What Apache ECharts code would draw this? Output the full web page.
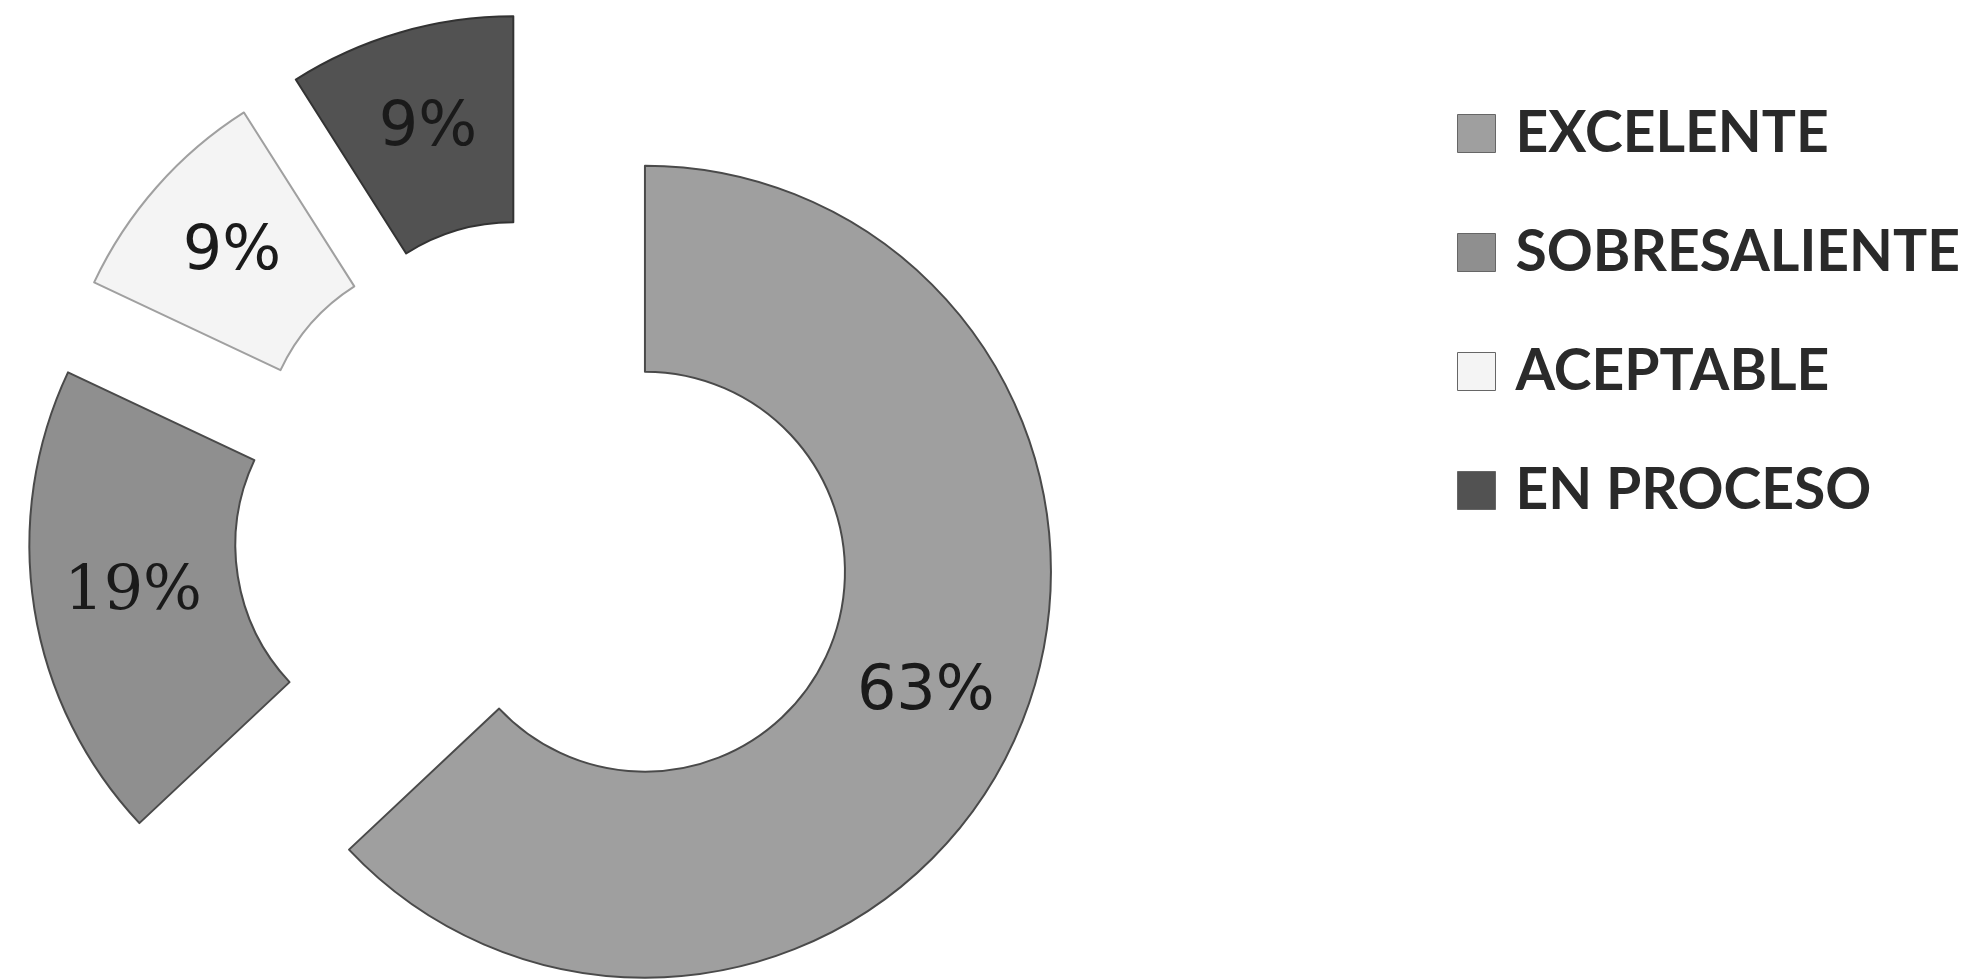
<!DOCTYPE html>
<html>
<head>
<meta charset="utf-8">
<script src="https://cdn.jsdelivr.net/npm/echarts@6/dist/echarts.min.js"></script>
<style>
html,body{margin:0;padding:0;background:#fff;}
#chart{width:1971px;height:980px;}
</style>
</head>
<body>
<div id="chart"></div>
<script>
const categories = ['EXCELENTE', 'SOBRESALIENTE', 'ACEPTABLE', 'EN PROCESO'];
const values = [63, 19, 9, 9];
const colors = ['#9f9f9f', '#8f8f8f', '#f4f4f4', '#525252'];
const borderColors = ['#4a4a4a', '#4a4a4a', '#a0a0a0', '#333333'];
const labelFonts = ['DejaVu Sans', 'DejaVu Serif', 'DejaVu Sans', 'DejaVu Sans'];

const chart = echarts.init(document.getElementById('chart'), null, {renderer: 'canvas'});
const data = categories.map((name, i) => ({
  name: name,
  value: values[i],
  selected: true,
  itemStyle: {color: colors[i], borderColor: borderColors[i], borderWidth: 2},
  select: {itemStyle: {color: colors[i], borderColor: borderColors[i], borderWidth: 2}},
  label: {fontFamily: labelFonts[i]}
}));

chart.setOption({
  animation: false,
  backgroundColor: '#ffffff',
  legend: {
    orient: 'vertical',
    left: 1452,
    top: 100,
    icon: 'rect',
    itemWidth: 38,
    itemHeight: 38,
    itemGap: 62,
    selectedMode: false,
    itemStyle: {borderColor: '#666', borderWidth: 1},
    textStyle: {
      fontFamily: 'Lato',
      fontSize: 57,
      fontWeight: 'bold',
      color: '#2a2a2a',
      lineHeight: 52,
      padding: [0, 0, 0, 15]
    },
    data: categories
  },
  series: [{
    type: 'pie',
    center: [544, 528],
    radius: [200, 406],
    startAngle: 90,
    clockwise: true,
    selectedMode: 'multiple',
    selectedOffset: 110,
    avoidLabelOverlap: false,
    emphasis: {disabled: true},
    label: {
      show: true,
      position: 'inside',
      formatter: '{c}%',
      fontSize: 62,
      color: '#1a1a1a'
    },
    labelLine: {show: false},
    data: data
  }]
});
</script>
</body>
</html>
